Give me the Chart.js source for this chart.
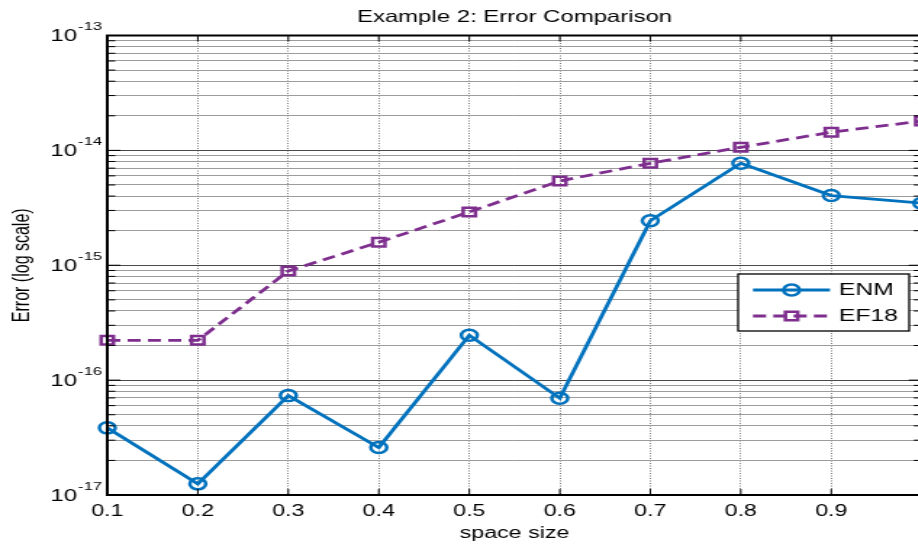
<!DOCTYPE html>
<html>
<head>
<meta charset="utf-8">
<script src="https://cdn.jsdelivr.net/npm/chart.js@4.4.1/dist/chart.umd.min.js"></script>
<style>
  html, body { margin: 0; padding: 0; background: #fff; overflow: hidden; width: 918px; height: 544px; }
  #wrap { position: absolute; left: 0; top: 0; width: 640px; height: 544px; transform: scaleX(1.45); transform-origin: 0 0; }
</style>
</head>
<body>
<div id="wrap"><canvas id="c" width="640" height="544"></canvas></div>
<script>
// ---- data ----
const xValues = [0.1, 0.2, 0.3, 0.4, 0.5, 0.6, 0.7, 0.8, 0.9, 1.0];
const xTickLabels = ['0.1', '0.2', '0.3', '0.4', '0.5', '0.6', '0.7', '0.8', '0.9', ''];
const enmValues = [3.84e-17, 1.25e-17, 7.33e-17, 2.59e-17, 2.46e-16, 6.95e-17, 2.44e-15, 7.72e-15, 4.04e-15, 3.47e-15];
const ef18Values = [2.22e-16, 2.22e-16, 8.91e-16, 1.585e-15, 2.91e-15, 5.42e-15, 7.72e-15, 1.064e-14, 1.44e-14, 1.80e-14];
const yDecadeExponents = [-17, -16, -15, -14, -13];
const seriesNames = ['ENM', 'EF18'];
const chartTitle = 'Example 2: Error Comparison';
const xAxisTitle = 'space size';
const yAxisTitle = 'Error (log scale)';

const FONT = '"Liberation Sans", Arial, Helvetica, sans-serif';
const BLUE = '#0072BD';
const PURPLE = '#7E2F8E';

// y ticks: 1..9 x 10^e for each decade, plus the top decade
function buildYTicks() {
  const t = [];
  for (let i = 0; i < yDecadeExponents.length; i++) {
    const e = yDecadeExponents[i];
    if (i === yDecadeExponents.length - 1) { t.push({ value: Number('1e' + e), major: true }); break; }
    for (let m = 1; m <= 9; m++) t.push({ value: Number(m + 'e' + e), major: m === 1 });
  }
  return t;
}

const frame = {
  id: 'frame',
  afterDatasetsDraw(chart) {
    const { ctx, chartArea: a } = chart;
    const xs = chart.scales.x, ys = chart.scales.y;
    ctx.save();
    // inward tick marks
    ctx.strokeStyle = '#000';
    ctx.lineWidth = 1;
    ctx.beginPath();
    ys.ticks.forEach(t => {
      const y = ys.getPixelForValue(t.value);
      const len = t.major ? 9 : 5.5;
      ctx.moveTo(a.left, y); ctx.lineTo(a.left + len, y);
      ctx.moveTo(a.right, y); ctx.lineTo(a.right - len, y);
    });
    xs.ticks.forEach(t => {
      const x = xs.getPixelForValue(t.value);
      ctx.moveTo(x, a.top); ctx.lineTo(x, a.top + 6);
      ctx.moveTo(x, a.bottom); ctx.lineTo(x, a.bottom - 6);
    });
    ctx.stroke();
    // axis box
    ctx.lineWidth = 2;
    ctx.strokeRect(a.left, a.top, a.right - a.left, a.bottom - a.top);
    // y tick labels 10^e
    ctx.fillStyle = '#000';
    yDecadeExponents.forEach(e => {
      const y = ys.getPixelForValue(Number('1e' + e));
      ctx.font = '16.5px ' + FONT;
      ctx.textAlign = 'right';
      ctx.textBaseline = 'middle';
      ctx.fillText('10', 53.1, y + 1);
      ctx.font = '11.5px ' + FONT;
      ctx.textAlign = 'left';
      ctx.fillText(String(e), 53.8, y - 8.3);
    });
    ctx.restore();
  },
  afterDraw(chart) {
    const { ctx } = chart;
    const ds = chart.data.datasets;
    ctx.save();
    // legend box
    const bx = 509, by = 274, bw = 118, bh = 57;
    ctx.fillStyle = '#fff';
    ctx.fillRect(bx, by, bw, bh);
    ctx.strokeStyle = '#000';
    ctx.lineWidth = 1.3;
    ctx.strokeRect(bx, by, bw, bh);
    const rows = [290, 316];
    ds.forEach((d, i) => {
      const y = rows[i];
      ctx.strokeStyle = d.borderColor;
      ctx.lineWidth = d.borderWidth;
      ctx.setLineDash(d.borderDash || []);
      ctx.beginPath();
      ctx.moveTo(519.3, y); ctx.lineTo(572.4, y);
      ctx.stroke();
      ctx.setLineDash([]);
      ctx.lineWidth = d.pointBorderWidth;
      ctx.beginPath();
      const cx = 545.9;
      if (d.pointStyle === 'rect') {
        const h = d.pointRadius * Math.SQRT1_2;
        ctx.rect(cx - h, y - h, 2 * h, 2 * h);
      } else {
        ctx.arc(cx, y, d.pointRadius, 0, Math.PI * 2);
      }
      ctx.stroke();
      ctx.fillStyle = '#000';
      ctx.font = '17px ' + FONT;
      ctx.textAlign = 'left';
      ctx.textBaseline = 'middle';
      ctx.fillText(d.label, 578.6, y + 0.5);
    });
    ctx.restore();
  }
};

new Chart(document.getElementById('c'), {
  type: 'line',
  data: {
    datasets: [
      {
        label: seriesNames[0],
        data: xValues.map((x, i) => ({ x, y: enmValues[i] })),
        borderColor: BLUE, borderWidth: 2.8,
        pointStyle: 'circle', pointRadius: 5.5, pointBorderWidth: 2.5,
        pointBorderColor: BLUE, pointBackgroundColor: 'rgba(0,0,0,0)',
        tension: 0, fill: false, clip: false
      },
      {
        label: seriesNames[1],
        data: xValues.map((x, i) => ({ x, y: ef18Values[i] })),
        borderColor: PURPLE, borderWidth: 2.8, borderDash: [9, 5],
        pointStyle: 'rect', pointRadius: 6, pointBorderWidth: 2.5,
        pointBorderColor: PURPLE, pointBackgroundColor: 'rgba(0,0,0,0)',
        tension: 0, fill: false, clip: false
      }
    ]
  },
  options: {
    responsive: false,
    animation: false,
    devicePixelRatio: 1,
    layout: { autoPadding: false, padding: { left: 0, right: 4.3, top: 0, bottom: 0 } },
    plugins: {
      legend: { display: false },
      tooltip: { enabled: false },
      title: {
        display: true, text: chartTitle, fullSize: false, color: '#000',
        font: { family: FONT, size: 16.5, weight: 'normal' },
        padding: { top: 7.4, bottom: 8.3 }
      }
    },
    scales: {
      x: {
        type: 'linear', min: 0.1, max: 1.0,
        afterBuildTicks: s => { s.ticks = xValues.map(v => ({ value: v })); },
        afterFit: s => { s.height = 49; s.paddingLeft = 0; s.paddingRight = 0; },
        ticks: {
          callback: (v, i) => xTickLabels[i],
          color: '#000', font: { family: FONT, size: 16 }, padding: 7,
          maxRotation: 0, autoSkip: false
        },
        grid: { color: '#7a7a7a', lineWidth: 1, drawTicks: false },
        border: { display: false, dash: [1, 1.5] },
        title: {
          display: true, text: xAxisTitle, color: '#000',
          font: { family: FONT, size: 16 }, padding: { top: 0, bottom: 0.4 }
        }
      },
      y: {
        type: 'logarithmic', min: 1e-17, max: 1e-13,
        afterBuildTicks: s => { s.ticks = buildYTicks(); },
        afterFit: s => { s.width = 74; s.paddingTop = 0; s.paddingBottom = 0; },
        ticks: { display: false },
        grid: {
          color: c => (c.tick && c.tick.major) ? '#4a4a4a' : '#9c9c9c',
          lineWidth: 1, drawTicks: false
        },
        border: { display: false },
        title: {
          display: true, text: yAxisTitle, color: '#000',
          font: { family: FONT, size: 16 }, padding: { top: 6.3, bottom: 0 }
        }
      }
    }
  },
  plugins: [frame]
});
</script>
</body>
</html>
